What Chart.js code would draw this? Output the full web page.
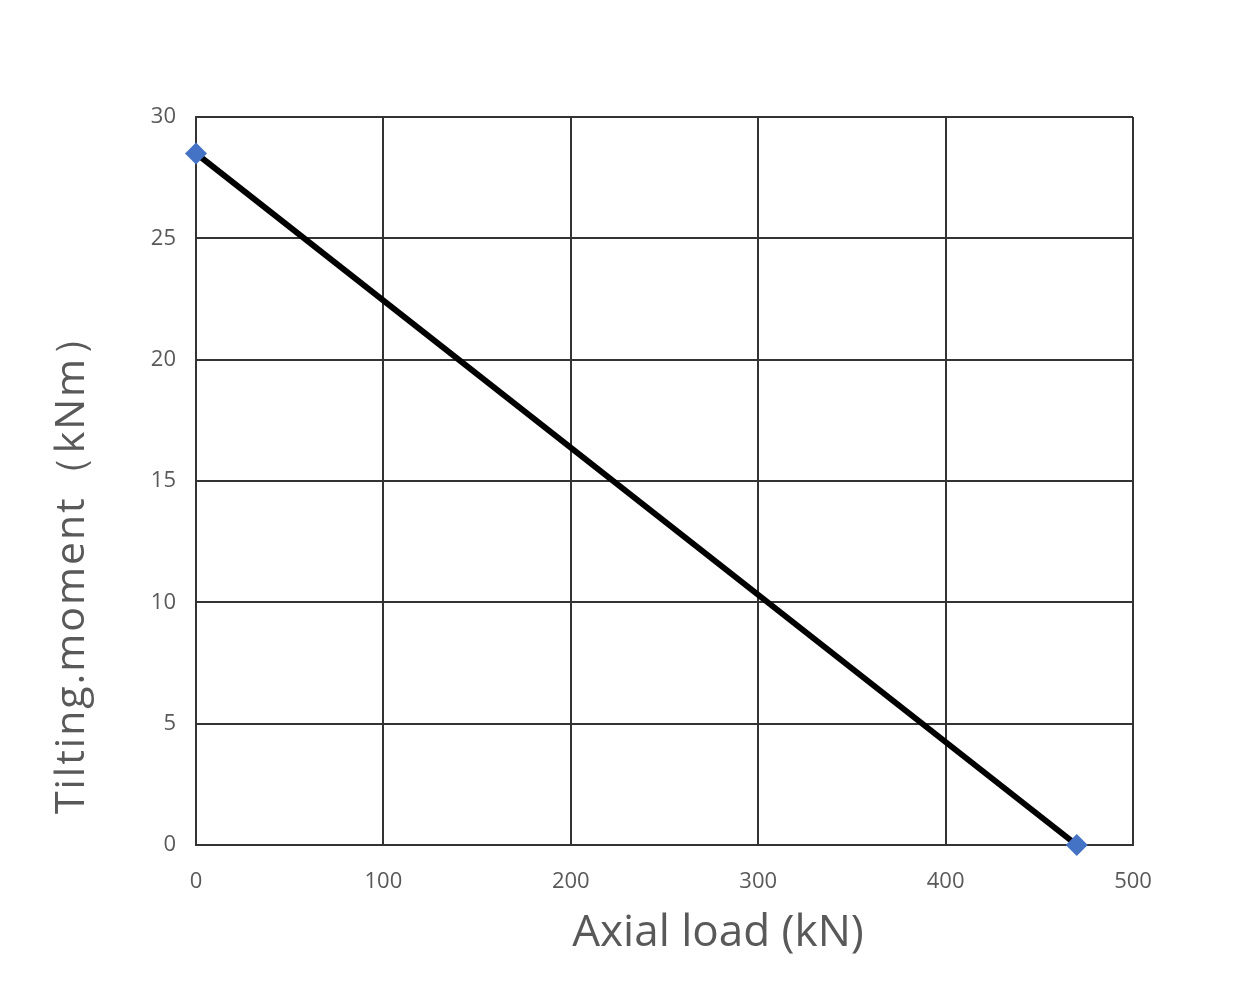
<!DOCTYPE html>
<html>
<head>
<meta charset="utf-8">
<script src="https://cdn.jsdelivr.net/npm/chart.js@4"></script>
<style>
  html, body { margin: 0; padding: 0; background: #fff; }
  #wrap { width: 1260px; height: 990px; }
</style>
</head>
<body>
<div id="wrap"><canvas id="chart" width="1260" height="990"></canvas></div>
<script>
// data
const axialLoad = [0, 470];
const tiltingMoment = [28.5, 0];
const xTitle = 'Axial load (kN)';
const yTitle = 'Tilting.moment（kNm）';

const textGray = '#595959';
const gridColor = '#333333';
const fontFamily = '"Open Sans", "Noto Sans", sans-serif';

// axis titles sit off-centre in the original, so draw them by hand
const axisTitles = {
    id: 'axisTitles',
    afterDraw(chart) {
        const ctx = chart.ctx;
        ctx.save();
        ctx.fillStyle = textGray;
        ctx.font = '44px ' + fontFamily;
        ctx.textAlign = 'center';
        ctx.textBaseline = 'middle';
        ctx.fillText(xTitle, 718, 933);
        ctx.translate(72, 564);
        ctx.rotate(-Math.PI / 2);
        ctx.font = '41px ' + fontFamily;
        ctx.letterSpacing = '2px';
        ctx.fillText(yTitle, 0, 0);
        ctx.restore();
    }
};

new Chart(document.getElementById('chart'), {
    type: 'scatter',
    data: {
        datasets: [{
            data: axialLoad.map((x, i) => ({ x: x, y: tiltingMoment[i] })),
            showLine: true,
            borderColor: '#000000',
            borderWidth: 6,
            pointStyle: 'rectRot',
            pointRadius: 11,
            pointBackgroundColor: '#4472C4',
            pointBorderColor: '#4472C4',
            pointBorderWidth: 0,
            clip: false
        }]
    },
    options: {
        responsive: false,
        animation: false,
        layout: { padding: { top: 117, right: 127, bottom: 0, left: 0 } },
        plugins: {
            legend: { display: false },
            tooltip: { enabled: false }
        },
        scales: {
            x: {
                type: 'linear',
                min: 0,
                max: 500,
                ticks: {
                    stepSize: 100,
                    color: textGray,
                    font: { family: fontFamily, size: 22 },
                    padding: 24
                },
                grid: { color: gridColor, lineWidth: 2, drawTicks: false },
                border: { color: gridColor, width: 2 },
                afterFit(scale) { scale.height = 145; }
            },
            y: {
                min: 0,
                max: 30,
                ticks: {
                    stepSize: 5,
                    color: textGray,
                    font: { family: fontFamily, size: 22 },
                    padding: 20
                },
                grid: { color: gridColor, lineWidth: 2, drawTicks: false },
                border: { color: gridColor, width: 2 },
                afterFit(scale) { scale.width = 196; }
            }
        }
    },
    plugins: [axisTitles]
});
</script>
</body>
</html>
